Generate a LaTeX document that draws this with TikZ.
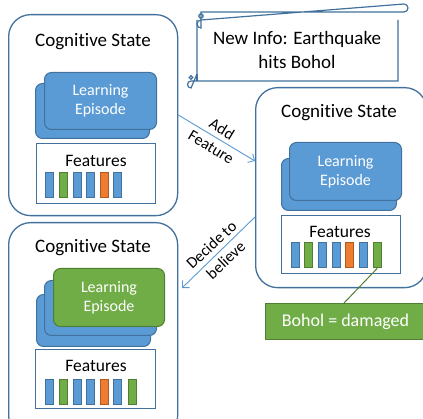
\documentclass[tikz,border=0pt]{standalone}
\usepackage{fontspec}
\setmainfont{Carlito}[Ligatures={NoCommon,NoContextual}]
\usetikzlibrary{arrows.meta,calc}
\definecolor{cont}{RGB}{65,113,156}
\definecolor{bluef}{RGB}{91,155,213}
\definecolor{bluebd}{RGB}{65,113,156}
\definecolor{greenf}{RGB}{112,173,71}
\definecolor{greenbd}{RGB}{80,126,50}
\definecolor{orangef}{RGB}{237,125,49}
\definecolor{orangebd}{RGB}{174,90,33}
\definecolor{arrowc}{RGB}{91,155,213}
\newcommand{\cogst}{Cogni\kern0pt tive State}
\begin{document}
\begin{tikzpicture}[x=1pt,y=-1pt,
  container/.style={draw=cont, line width=1.3pt, rounded corners=22pt, fill=white, anchor=north west, inner sep=0},
  epi/.style={draw=bluebd, fill=bluef, rounded corners=7pt, line width=1pt, anchor=north west, inner sep=0, text=white, font=\fontsize{16}{19}\selectfont, align=center},
  epig/.style={epi, draw=greenbd, fill=greenf},
  featbox/.style={draw=cont, fill=white, line width=1.1pt, anchor=north west, inner sep=0},
  title/.style={font=\fontsize{19}{23}\selectfont, inner sep=0},
  flabel/.style={font=\fontsize{17.5}{21}\selectfont, inner sep=0},
  bar/.style={line width=0.9pt, minimum width=7.5pt, minimum height=25.5pt, anchor=north west, inner sep=0},
  barB/.style={bar, draw=bluebd, fill=bluef},
  barG/.style={bar, draw=greenbd, fill=greenf},
  barO/.style={bar, draw=orangebd, fill=orangef},
  conn/.style={draw=arrowc, line width=0.9pt, -{Straight Barb[length=5pt,width=10pt]}},
  alabel/.style={font=\fontsize{16}{21}\selectfont, align=center, inner sep=0}
]
\clip (0,0) rectangle (423,419);
\fill[white] (0,0) rectangle (423,419);

% containers
\node[container, minimum width=169pt, minimum height=201pt] (cs1) at (8,14) {};
\node[container, minimum width=171pt, minimum height=200pt] (cs2) at (255,87) {};
\node[container, minimum width=169pt, minimum height=215pt] (cs3) at (8,222) {};

\node[title] (t1) at (93,42) {\cogst};
\node[title] (t2) at (339,113) {\cogst};
\node[title] (t3) at (93,248) {\cogst};

% top-left episodes
\node[epi, minimum width=114pt, minimum height=55pt] (e1b) at (35,83) {};
\node[epi, minimum width=112pt, minimum height=57pt] (e1f) at (44,72) {Learning\\Episode};
% right episodes
\node[epi, minimum width=115pt, minimum height=52pt] (e2b) at (281,158) {};
\node[epi, minimum width=112pt, minimum height=58pt] (e2f) at (289,142) {Learning\\Episode};
% bottom-left episodes
\node[epi, minimum width=114pt, minimum height=52pt] (e3a) at (36,294) {};
\node[epi, minimum width=112pt, minimum height=55pt] (e3b) at (44,280) {};
\node[epig, minimum width=111pt, minimum height=58pt] (e3f) at (53,268) {Learning\\Episode};

% feature boxes
\node[featbox, minimum width=119pt, minimum height=60pt] (f1) at (36,143) {};
\node[flabel] (fl1) at (96,161) {Features};
\node[featbox, minimum width=119pt, minimum height=58pt] (f2) at (281,215) {};
\node[flabel] (fl2) at (340,232) {Features};
\node[featbox, minimum width=120pt, minimum height=59pt] (f3) at (35,349) {};
\node[flabel] (fl3) at (96,366) {Features};

\foreach \x/\c [count=\i] in {45/B,59/G,73/B,86/B,100/O,113/B}
  \node[bar\c] (b1\i) at (\x,172) {};
\foreach \x/\c [count=\i] in {291/B,304/G,318/B,332/B,345/O,359/B,373/G}
  \node[bar\c] (b2\i) at (\x,242) {};
\foreach \x/\c [count=\i] in {45/B,59/G,73/B,86/B,100/O,113/B,128/G}
  \node[bar\c] (b3\i) at (\x,379) {};

% Bohol box
\node[draw=greenbd, fill=greenf, line width=1pt, anchor=north west, inner sep=0,
      minimum width=164pt, minimum height=36pt, text=white,
      font=\fontsize{18}{22}\selectfont] (bohol) at (265,303) {\hspace*{-2pt}Bohol = damaged\hspace*{2pt}};
\draw[draw=greenbd, line width=1pt] (b27.south) -- (bohol.north -| 344,0);

% scroll
\begin{scope}[draw=cont, line width=1.2pt]
\draw[fill=white] (398,20) -- (398,81) -- (191,81) arc[start angle=270, end angle=90, radius=3.5] -- (197,74) -- (197,20);
\draw[fill=white] (201,12) -- (404,12) arc[start angle=90, end angle=-90, radius=4] -- (201,20) arc[start angle=270, end angle=90, radius=4] -- cycle;
\draw (201,16) circle[radius=2.2];
\draw (191,77.5) circle[radius=1.8];
\draw (197,74) -- (197,81);
\end{scope}
\node[font=\fontsize{19}{24}\selectfont, align=center, inner sep=0] (info) at (297,50) {New Info: Earthquake\\hits Bohol};

% arrows
\coordinate (a1s) at (cs1.east |- 0,115);
\coordinate (a1e) at (cs2.west |- 0,161);
\draw[conn] (a1s) -- (a1e) node[midway, alabel, rotate=-31] (lab1) {Add\\Feature};
\coordinate (a2s) at (cs2.west |- 0,217);
\coordinate (a2e) at (182,288);
\draw[conn] (a2s) -- (a2e) node[midway, alabel, rotate=43] (lab2) {Decide to\\believe};
\end{tikzpicture}
\end{document}
